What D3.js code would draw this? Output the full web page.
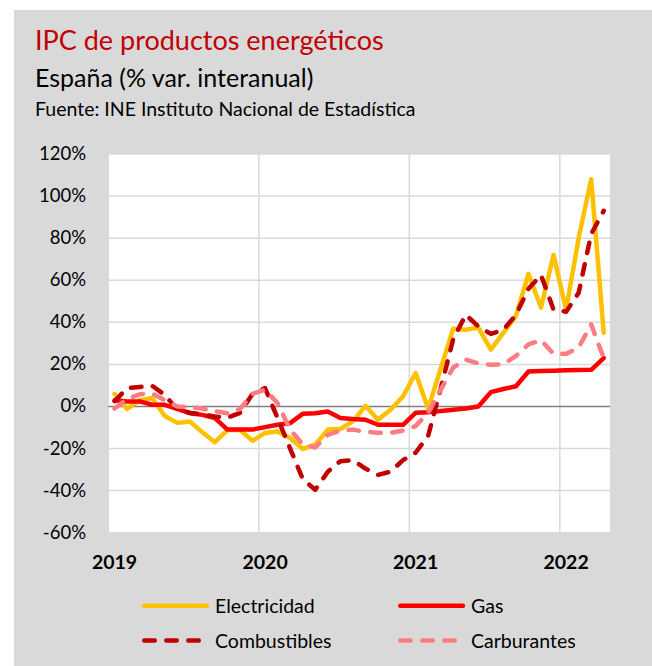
<!DOCTYPE html>
<html>
<head>
<meta charset="utf-8">
<script src="https://cdn.jsdelivr.net/npm/d3@7"></script>
<style>
  body { margin: 0; background: #fff; }
  text { font-family: Lato, "Open Sans", sans-serif; }
</style>
</head>
<body>
<div id="chart"></div>
<script>
// meses enero 2019 - abril 2022
var meses = ['2019-01','2019-02','2019-03','2019-04','2019-05','2019-06','2019-07','2019-08','2019-09','2019-10','2019-11','2019-12',
  '2020-01','2020-02','2020-03','2020-04','2020-05','2020-06','2020-07','2020-08','2020-09','2020-10','2020-11','2020-12',
  '2021-01','2021-02','2021-03','2021-04','2021-05','2021-06','2021-07','2021-08','2021-09','2021-10','2021-11','2021-12',
  '2022-01','2022-02','2022-03','2022-04']

var electricidad = [6, -1.2, 3, 4, -4.5, -7.8, -7.1, -12.3, -17, -11.2, -11.2, -16.3,
  -12.6, -11.9, -15, -20.2, -18.2, -11, -10.7, -7.1, 0.3, -6.3, -1.6, 4.8,
  15.9, -1, 18, 37, 36.5, 37.5, 27, 35, 43, 63, 47, 72,
  46, 80, 108, 35]

var gas = [2.9, 2.4, 2.4, 0.8, 0.8, -1.2, -3.2, -4, -5.5, -11, -11, -11,
  -9.8, -8.7, -7.9, -3.5, -3.2, -2.4, -5.5, -6, -6.3, -8.7, -8.7, -8.7,
  -3, -2.7, -2.2, -1.6, -1, 0, 6.8, 8.3, 9.6, 16.6, 16.8, 17,
  17.2, 17.3, 17.4, 23]

var combustibles = [2.5, 8.7, 9.3, 9.8, 5.5, -1.5, -3, -3.8, -4.8, -5.3, -3, 6,
  8.7, -5.6, -20, -34.5, -39.6, -31, -26, -25.5, -29.5, -32.5, -31, -25.5,
  -22, -14, 8.5, 32, 43.6, 38, 34.5, 36.5, 43.5, 56, 62.5, 46,
  45, 54, 82, 93]

var carburantes = [-1, 3.5, 5.8, 6.2, 3, 0, -0.3, -1, -2.2, -3.2, -1.2, 6,
  8, 1.5, -11, -18, -19.5, -13.5, -11.5, -11, -12, -12.5, -12.5, -11.5,
  -9.3, -3, 8, 18.5, 22.3, 20.5, 19.8, 20, 24, 29.5, 31.5, 25,
  25, 28, 39, 23]

var yTicks = [-60, -40, -20, 0, 20, 40, 60, 80, 100, 120]
var years = ['2019', '2020', '2021', '2022']

var series = [
  {name: 'Electricidad', values: electricidad, color: '#FFC000', dash: null},
  {name: 'Gas', values: gas, color: '#FF0000', dash: null},
  {name: 'Combustibles', values: combustibles, color: '#C00000', dash: '10.5 11.5'},
  {name: 'Carburantes', values: carburantes, color: '#FF7C80', dash: '10.5 11.5'}
]

var W = 652, H = 666
var svg = d3.select('#chart').append('svg').attr('width', W).attr('height', H)

svg.append('rect').attr('x', 14).attr('y', 10).attr('width', W - 14).attr('height', H - 10).attr('fill', '#d9d9d9')

// titulos
svg.append('text').attr('x', 35).attr('y', 49.5).attr('fill', '#C00000').style('font-size', '27px')
  .text('IPC de productos energéticos')
svg.append('text').attr('x', 35).attr('y', 87).attr('fill', '#000').style('font-size', '25px')
  .text('España (% var. interanual)')
svg.append('text').attr('x', 35).attr('y', 115.5).attr('fill', '#000').style('font-size', '19.5px')
  .text('Fuente: INE Instituto Nacional de Estadística')

var x = d3.scaleBand().domain(meses).range([108.3, 610]).paddingInner(0).paddingOuter(0)
var y = d3.scaleLinear().domain([-60, 120]).range([532.7, 154])
var cx = function(m){ return x(m) + x.bandwidth() / 2 }

var plot = svg.append('g')
plot.append('rect').attr('x', x.range()[0]).attr('y', y(120))
  .attr('width', x.range()[1] - x.range()[0]).attr('height', y(-60) - y(120)).attr('fill', '#fff')

// rejilla
plot.selectAll('line.hgrid').data(yTicks.filter(function(d){ return d != 0 })).enter().append('line')
  .attr('class', 'hgrid')
  .attr('x1', x.range()[0]).attr('x2', x.range()[1])
  .attr('y1', function(d){ return y(d) }).attr('y2', function(d){ return y(d) })
  .attr('stroke', '#d9d9d9').attr('stroke-width', 1.5)

var yearStarts = meses.filter(function(m){ return m.slice(5) == '01' })
plot.selectAll('line.vgrid').data(yearStarts).enter().append('line')
  .attr('class', 'vgrid')
  .attr('x1', function(m){ return x(m) }).attr('x2', function(m){ return x(m) })
  .attr('y1', y(120)).attr('y2', y(-60))
  .attr('stroke', '#d9d9d9').attr('stroke-width', 1.5)

plot.append('line').attr('x1', x.range()[0]).attr('x2', x.range()[1])
  .attr('y1', y(0)).attr('y2', y(0)).attr('stroke', '#808080').attr('stroke-width', 1.5)

// ejes
svg.selectAll('text.ylab').data(yTicks).enter().append('text')
  .attr('class', 'ylab')
  .attr('x', 86).attr('y', function(d){ return y(d) + 6 })
  .attr('text-anchor', 'end').style('font-size', '18.5px').attr('fill', '#000')
  .text(function(d){ return d + '%' })

svg.selectAll('text.xlab').data(years).enter().append('text')
  .attr('class', 'xlab')
  .attr('x', function(d){ return cx(d + '-01') }).attr('y', 568.5)
  .attr('text-anchor', 'middle').style('font-size', '19.5px').style('font-weight', 'bold').attr('fill', '#000')
  .text(function(d){ return d })

// lineas
var line = d3.line().x(function(d, i){ return cx(meses[i]) }).y(function(d){ return y(d) })

plot.selectAll('path.serie').data(series).enter().append('path')
  .attr('class', 'serie')
  .attr('d', function(s){ return line(s.values) })
  .attr('fill', 'none')
  .attr('stroke', function(s){ return s.color })
  .attr('stroke-width', 4.5)
  .attr('stroke-linejoin', 'round')
  .attr('stroke-linecap', 'round')
  .attr('stroke-dasharray', function(s){ return s.dash })

// leyenda
var legPos = [
  {lx: 142, ly: 605.7}, {lx: 398, ly: 605.7},
  {lx: 142, ly: 640.5}, {lx: 398, ly: 640.5}
]
var leg = svg.selectAll('g.leg').data(series).enter().append('g')
  .attr('class', 'leg')
  .attr('transform', function(s, i){ return 'translate(' + legPos[i].lx + ',' + legPos[i].ly + ')' })
leg.append('line').attr('x1', 2.25)
  .attr('x2', function(s){ return s.dash ? 59 : 65 })
  .attr('y1', 0).attr('y2', 0)
  .attr('stroke', function(s){ return s.color }).attr('stroke-width', 4.5)
  .attr('stroke-linecap', 'round')
  .attr('stroke-dasharray', function(s){ return s.dash })
leg.append('text').attr('x', 73).attr('y', 7).style('font-size', '19.5px').attr('fill', '#000')
  .text(function(s){ return s.name })
</script>
</body>
</html>
